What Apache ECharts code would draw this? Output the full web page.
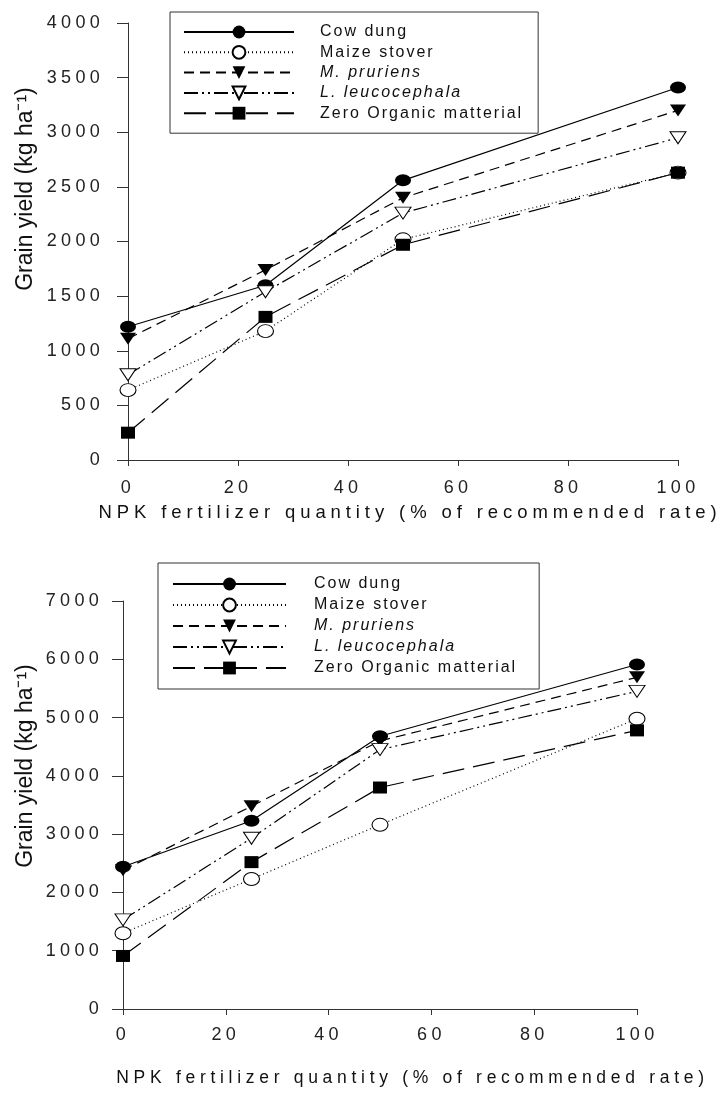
<!DOCTYPE html>
<html>
<head>
<meta charset="utf-8">
<title>Grain yield vs NPK fertilizer</title>
<script src="https://cdn.jsdelivr.net/npm/echarts@6/dist/echarts.min.js"></script>
<style>
html, body { margin: 0; padding: 0; background: #fff; }
#chart { width: 727px; height: 1095px; }
</style>
</head>
<body>
<div id="chart"></div>
<script>
// NPK rate (% of recommended) on the x axis
var npkRates = [0, 25, 50, 100];
var seriesNames = ['Cow dung', 'Maize stover', 'M. pruriens', 'L. leucocephala', 'Zero Organic matterial'];

// upper panel, grain yield kg/ha
var cowDungTop = [1220, 1600, 2560, 3410];
var maizeStoverTop = [640, 1180, 2020, 2630];
var pruriensTop = [1110, 1740, 2400, 3200];
var leucocephalaTop = [780, 1540, 2260, 2950];
var zeroOrganicTop = [250, 1310, 1970, 2630];

// lower panel, grain yield kg/ha
var cowDungBottom = [2440, 3230, 4680, 5910];
var maizeStoverBottom = [1300, 2230, 3160, 4980];
var pruriensBottom = [2380, 3480, 4600, 5690];
var leucocephalaBottom = [1530, 2930, 4450, 5450];
var zeroOrganicBottom = [910, 2520, 3800, 4780];

var FONT = 'Liberation Sans';

// the figure is typeset with wide letter spacing, echarts has no option for it
var spacingByFont = { '18px': 4.3, '18.5px': 4.9, '17.5px': 4.7, '16px': 2 };
var fillText0 = CanvasRenderingContext2D.prototype.fillText;
CanvasRenderingContext2D.prototype.fillText = function (t, x, y, w) {
    var m = /([\d.]+)px/.exec(this.font);
    var sp = m && spacingByFont[m[1] + 'px'];
    if (sp) this.letterSpacing = sp + 'px';
    if (w === undefined) fillText0.call(this, t, x, y);
    else fillText0.call(this, t, x, y, w);
    if (sp) this.letterSpacing = '0px';
};

var downTri = 'path://M0,0L10,0L5,8Z';
var looks = [
    { symbol: 'circle', size: [16, 12], fill: '#000', dash: 'solid' },
    { symbol: 'circle', size: [16, 13], fill: '#fff', dash: [1, 3] },
    { symbol: downTri, size: [16, 12], fill: '#000', dash: [10, 6] },
    { symbol: downTri, size: [16, 12], fill: '#fff', dash: [14, 4, 2, 4, 2, 4] },
    { symbol: 'rect', size: [14, 12], fill: '#000', dash: [22, 9] }
];

function pairs(vals) {
    return npkRates.map(function (x, i) { return [x, vals[i]]; });
}

function plain(v) { return String(v); }

function makeSeries(idx, vals, grid) {
    var lk = looks[idx];
    return {
        name: seriesNames[idx],
        type: 'line',
        xAxisIndex: grid,
        yAxisIndex: grid,
        data: pairs(vals),
        symbol: lk.symbol,
        symbolSize: lk.size,
        showAllSymbol: true,
        itemStyle: { color: lk.fill, borderColor: '#000', borderWidth: lk.fill === '#fff' ? 1 : 0 },
        lineStyle: { color: '#000', width: 1.2, type: lk.dash },
        emphasis: { disabled: true },
        animation: false
    };
}

function xAxisOf(grid, gap, shift, size) {
    return {
        gridIndex: grid, type: 'value', min: 0, max: 100, interval: 20,
        name: 'NPK fertilizer quantity (% of recommended rate)',
        nameLocation: 'middle', nameGap: gap,
        nameTextStyle: { fontFamily: FONT, fontSize: size, color: '#111', padding: [0, 0, 0, shift] },
        axisLine: { lineStyle: { color: '#333', width: 1 } },
        axisTick: { length: 6, lineStyle: { color: '#333' } },
        axisLabel: { fontFamily: FONT, fontSize: 18, color: '#222', margin: grid === 0 ? 19 : 17, formatter: plain },
        splitLine: { show: false }
    };
}

function yAxisOf(grid, max, step, gap, shift, margin) {
    return {
        gridIndex: grid, type: 'value', min: 0, max: max, interval: step,
        name: 'Grain yield (kg ha\u207B\u00B9)',
        nameLocation: 'middle', nameRotate: 90, nameGap: gap,
        nameTextStyle: { fontFamily: FONT, fontSize: 23, color: '#111', padding: [0, 0, 0, shift] },
        axisLine: { show: true, lineStyle: { color: '#333', width: 1 } },
        axisTick: { show: true, length: 11, lineStyle: { color: '#333' } },
        axisLabel: { fontFamily: FONT, fontSize: 18, color: '#222', margin: margin, formatter: plain },
        splitLine: { show: false }
    };
}

function legendOf(grid, left, top, itemW, gap, pad, textPad) {
    return {
        left: left, top: top, orient: 'vertical',
        itemWidth: itemW, itemHeight: 16, itemGap: gap,
        padding: pad,
        backgroundColor: '#fff', borderColor: '#333', borderWidth: 1, borderRadius: 0,
        selectedMode: false,
        textStyle: { fontFamily: FONT, fontSize: 16, color: '#111', lineHeight: 16, padding: [0, 0, 0, textPad] },
        data: seriesNames.map(function (n, i) {
            return (i === 2 || i === 3) ? { name: n, textStyle: { fontStyle: 'italic' } } : { name: n };
        })
    };
}

var series = [
    makeSeries(0, cowDungTop, 0),
    makeSeries(1, maizeStoverTop, 0),
    makeSeries(2, pruriensTop, 0),
    makeSeries(3, leucocephalaTop, 0),
    makeSeries(4, zeroOrganicTop, 0),
    makeSeries(0, cowDungBottom, 1),
    makeSeries(1, maizeStoverBottom, 1),
    makeSeries(2, pruriensBottom, 1),
    makeSeries(3, leucocephalaBottom, 1),
    makeSeries(4, zeroOrganicBottom, 1)
];

var myChart = echarts.init(document.getElementById('chart'), null, { renderer: 'canvas' });
myChart.setOption({
    backgroundColor: '#fff',
    animation: false,
    grid: [
        { left: 128, top: 23, width: 550, height: 437 },
        { left: 123, top: 601, width: 514, height: 408 }
    ],
    xAxis: [xAxisOf(0, 43, 14, 18.5), xAxisOf(1, 60, 65, 17.5)],
    yAxis: [yAxisOf(0, 4000, 500, 91, 105, 24), yAxisOf(1, 7000, 1000, 86, 78, 20)],
    legend: [
        legendOf(0, 170, 12, 110, 4.3, [12, 59, 12, 13], 21),
        legendOf(1, 158, 563, 113, 5, [13, 66, 13, 14], 23)
    ],
    // white margin the original leaves round its legend boxes
    graphic: [
        { type: 'rect', z: 3, silent: true, shape: { x: 170, y: 12, width: 369, height: 131 }, style: { fill: '#fff' } },
        { type: 'rect', z: 3, silent: true, shape: { x: 158, y: 563, width: 382, height: 136 }, style: { fill: '#fff' } }
    ],
    series: series
});
</script>
</body>
</html>
